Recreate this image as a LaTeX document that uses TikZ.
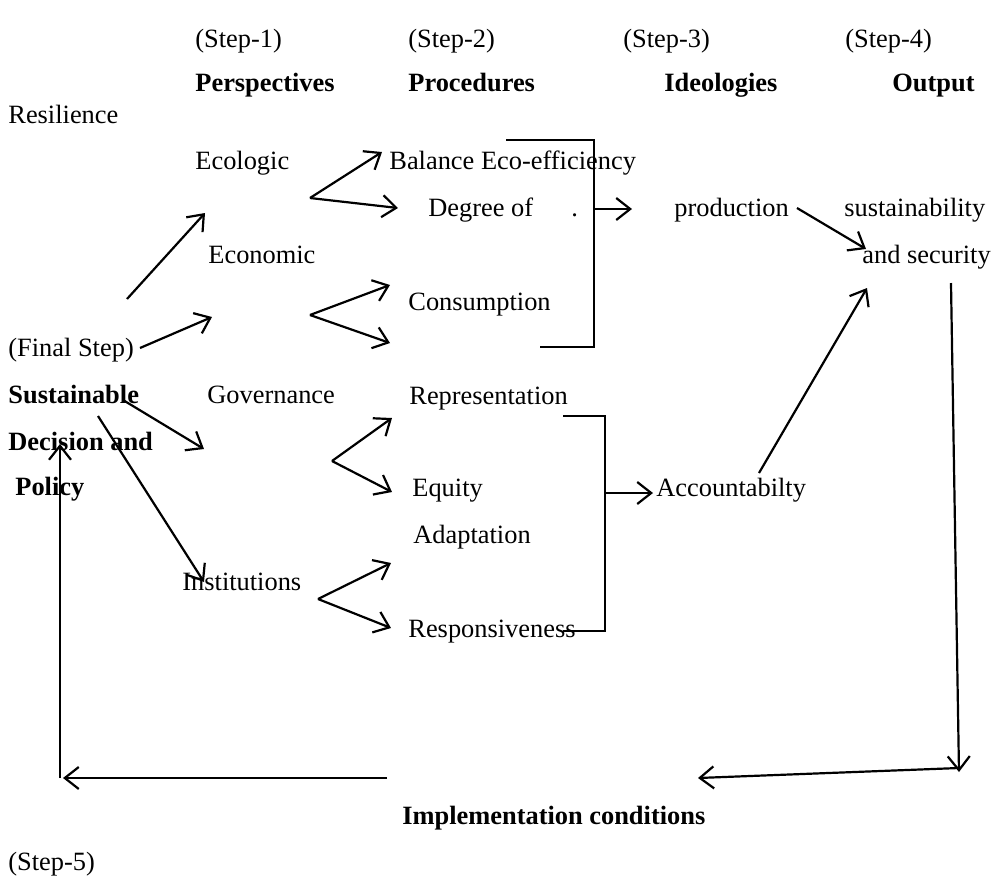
\documentclass[tikz,border=0pt]{standalone}
\usepackage{fontspec}
\setmainfont{Liberation Serif}
\usetikzlibrary{arrows.meta}
\begin{document}
\begin{tikzpicture}[x=0.5pt,y=-0.5pt,
  lbl/.style={anchor=base west,inner sep=0pt,font=\fontsize{13.2}{15}\selectfont},
  blbl/.style={anchor=base west,inner sep=0pt,font=\fontsize{13.2}{15}\selectfont\bfseries},
  arr/.style={line width=1.1pt,-{Straight Barb[length=7pt,width=11pt,line width=1.1pt]}},
  brk/.style={line width=0.85pt}]
\useasboundingbox[fill=white] (0,0) rectangle (992,875);
% header
\node[lbl] (s1) at (195,47) {(Step-1)};
\node[lbl] (s2) at (408,47) {(Step-2)};
\node[lbl] (s3) at (623,47) {(Step-3)};
\node[lbl] (s4) at (845,47) {(Step-4)};
\node[blbl] (persp) at (195,91) {Perspectives};
\node[blbl] (proc) at (408,91) {Procedures};
\node[blbl] (ideo) at (664,91) {Ideologies};
\node[blbl] (outp) at (892,91) {Output};
% left column
\node[lbl] (resil) at (8,123) {Resilience};
\node[lbl] (final) at (8,356) {(Final Step)};
\node[blbl] (sust) at (8,403) {Sustainable};
\node[blbl] (decis) at (8,450) {Decision and};
\node[blbl] (policy) at (15,495) {Policy};
\node[lbl] (step5) at (8,870) {(Step-5)};
% perspectives
\node[lbl] (ecol) at (195,169) {Ecologic};
\node[lbl] (econ) at (208,263) {Economic};
\node[lbl] (gov) at (207,403) {Governance};
\node[lbl] (inst) at (182,590) {Institutions};
% procedures
\node[lbl] (bal) at (389,169) {Balance Eco-efficiency};
\node[lbl] (deg) at (428,216) {Degree of};
\node[lbl] (dot) at (571,216) {.};
\node[lbl] (cons) at (408,310) {Consumption};
\node[lbl] (repr) at (409,404) {Representation};
\node[lbl] (equ) at (412,496) {Equity};
\node[lbl] (adapt) at (413,543) {Adaptation};
\node[lbl] (resp) at (408,637) {Responsiveness};
% ideologies / output
\node[lbl] (prod) at (674,216) {production};
\node[lbl] (acc) at (656,496) {Accountabilty};
\node[lbl] (sus) at (844,216) {sustainability};
\node[lbl] (sec) at (862,263) {and security};
\node[blbl] (impl) at (402,824) {Implementation conditions};
% coordinates
\coordinate (a1s) at (127,299); \coordinate (a1e) at (205,213);
\coordinate (a2s) at (140,348); \coordinate (a2e) at (212,317);
\coordinate (a3s) at (123,400); \coordinate (a3e) at (204,449);
\coordinate (a4s) at (98,416);  \coordinate (a4e) at (204,582);
\coordinate (f1) at (310,198); \coordinate (f1a) at (382,152); \coordinate (f1b) at (398,208);
\coordinate (f2) at (310,315); \coordinate (f2a) at (390,285); \coordinate (f2b) at (390,343);
\coordinate (f3) at (332,461); \coordinate (f3a) at (392,418); \coordinate (f3b) at (392,492);
\coordinate (f4) at (318,599); \coordinate (f4a) at (391,563); \coordinate (f4b) at (391,628);
\coordinate (b1a) at (506,140); \coordinate (b1b) at (594,140); \coordinate (b1c) at (594,347); \coordinate (b1d) at (540,347);
\coordinate (b1m) at (594,209); \coordinate (b1t) at (632,209);
\coordinate (b2a) at (563,416); \coordinate (b2b) at (605,416); \coordinate (b2c) at (605,631); \coordinate (b2d) at (563,631);
\coordinate (b2m) at (605,493); \coordinate (b2t) at (653,493);
\coordinate (ps) at (797,208); \coordinate (pe) at (866,249);
\coordinate (as) at (759,473); \coordinate (ae) at (867,288);
\coordinate (rv1) at (951,283); \coordinate (rv2) at (959,772);
\coordinate (bh1) at (959,768); \coordinate (bh2) at (698,778);
\coordinate (lh1) at (387,778); \coordinate (lh2) at (63,778);
\coordinate (lv1) at (60,778); \coordinate (lv2) at (60,444);
% arrows
\draw[arr] (a1s) -- (a1e);
\draw[arr] (a2s) -- (a2e);
\draw[arr] (a3s) -- (a3e);
\draw[arr] (a4s) -- (a4e);
\draw[arr] (f1) -- (f1a); \draw[arr] (f1) -- (f1b);
\draw[arr] (f2) -- (f2a); \draw[arr] (f2) -- (f2b);
\draw[arr] (f3) -- (f3a); \draw[arr] (f3) -- (f3b);
\draw[arr] (f4) -- (f4a); \draw[arr] (f4) -- (f4b);
\draw[brk] (b1a) -- (b1b) -- (b1c) -- (b1d);
\draw[arr] (b1m) -- (b1t);
\draw[brk] (b2a) -- (b2b) -- (b2c) -- (b2d);
\draw[arr] (b2m) -- (b2t);
\draw[arr] (ps) -- (pe);
\draw[arr] (as) -- (ae);
\draw[arr] (rv1) -- (rv2);
\draw[arr] (bh1) -- (bh2);
\draw[arr] (lh1) -- (lh2);
\draw[arr] (lv1) -- (lv2);
\end{tikzpicture}
\end{document}
